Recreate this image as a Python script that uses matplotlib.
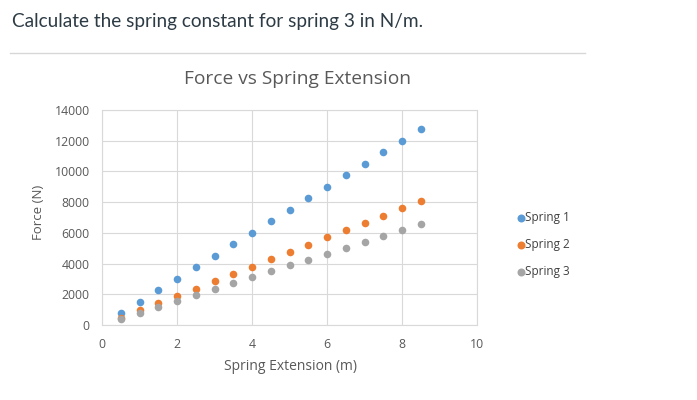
import matplotlib
matplotlib.use("Agg")
import matplotlib.pyplot as plt
from matplotlib.lines import Line2D

plt.rcParams['font.family'] = ['Open Sans', 'DejaVu Sans']

extension = [0.5, 1, 1.5, 2, 2.5, 3, 3.5, 4, 4.5, 5, 5.5, 6, 6.5, 7, 7.5, 8, 8.5]
spring1 = [750, 1500, 2250, 3000, 3750, 4500, 5250, 6000, 6750, 7500,
           8250, 9000, 9750, 10500, 11250, 12000, 12750]
spring2 = [475, 950, 1425, 1900, 2375, 2850, 3325, 3800, 4275, 4750,
           5225, 5700, 6175, 6650, 7125, 7600, 8075]
spring3 = [388, 775, 1163, 1550, 1938, 2325, 2713, 3100, 3488, 3875,
           4263, 4650, 5038, 5425, 5813, 6200, 6588]
labels = ["Spring 1", "Spring 2", "Spring 3"]
colors = ["#5B9BD5", "#ED7D31", "#A5A5A5"]

W, H = 697, 400
fig = plt.figure(figsize=(W / 100, H / 100), dpi=100)

# question text and separator line
fig.text(12 / W, 1 - 22 / H, "Calculate the spring constant for spring 3 in N/m.",
         fontsize=13.7, color="#2d3b45", va="center", ha="left", family="Lato")
fig.add_artist(Line2D([10 / W, 585 / W], [1 - 53 / H, 1 - 53 / H],
                      color="#d7d7d7", lw=1))

ax = fig.add_axes([102 / W, 1 - 325 / H, 375 / W, 215 / H])
for ys, lab, c in zip([spring1, spring2, spring3], labels, colors):
    ax.scatter(extension, ys, s=30, color=c, label=lab, linewidths=0, zorder=3)

ax.set_xlim(0, 10)
ax.set_ylim(0, 14000)
ax.set_xticks(range(0, 11, 2))
ax.set_yticks(range(0, 14001, 2000))
ax.grid(True, color="#d9d9d9", lw=0.8)
for s in ax.spines.values():
    s.set_color("#d9d9d9")
    s.set_linewidth(0.8)
ax.tick_params(length=0, labelsize=8.8, colors="#595959", pad=9)

fig.text(297 / W, 1 - 79 / H, "Force vs Spring Extension", fontsize=13.8,
         color="#595959", ha="center", va="center")
fig.text(38 / W, 1 - 212 / H, "Force (N)", fontsize=9.5, color="#595959",
         rotation=90, ha="center", va="center")
fig.text(290 / W, 1 - 367 / H, "Spring Extension (m)", fontsize=10,
         color="#595959", ha="center", va="center")

fig.legend(loc="upper left", bbox_to_anchor=(503 / W, 1 - 200 / H),
           frameon=False, fontsize=8.5, handletextpad=-0.2, labelspacing=1.2,
           markerscale=1.05, labelcolor="#404040", handlelength=1.2)

fig.savefig("out.png", dpi=100)
